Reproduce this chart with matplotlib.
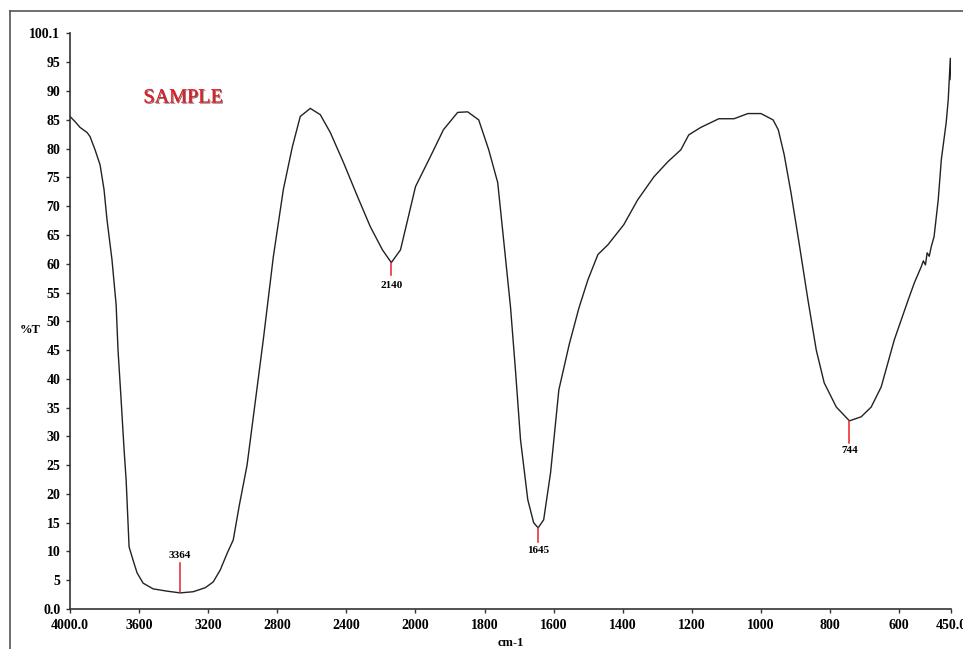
import numpy as np
import matplotlib

matplotlib.use("Agg")
import matplotlib.pyplot as plt
import matplotlib.patheffects as pe
from matplotlib.lines import Line2D

# spectrum (wavenumber cm-1, %T)
wavenumber = [4000, 3971, 3942, 3901, 3884, 3855, 3826, 3803, 3786, 3757,
              3733, 3722, 3704, 3687, 3675, 3658, 3635, 3612, 3577, 3519,
              3438, 3362, 3287, 3217, 3171, 3130, 3090, 3055, 3020, 2975,
              2881, 2823, 2765, 2713, 2667, 2609, 2551, 2493, 2417, 2336,
              2261, 2191, 2140, 2087, 2041, 2000, 1957, 1919, 1878, 1849,
              1817, 1788, 1762, 1745, 1725, 1710, 1696, 1675, 1658, 1645,
              1629, 1609, 1585, 1555, 1527, 1501, 1472, 1443, 1397, 1357,
              1310, 1270, 1232, 1209, 1174, 1122, 1078, 1038, 1000, 965,
              950, 933, 913, 890, 864, 840, 817, 782, 744, 710,
              681, 652, 614, 574, 556, 536, 530, 524, 519, 513,
              507, 499, 487, 478, 464, 458, 452, 450]
transmittance = [85.6, 84.7, 83.7, 82.8, 82.1, 79.8, 77.2, 72.9, 67.7, 60.7,
                 52.9, 45.0, 36.3, 27.7, 22.4, 10.8, 8.5, 6.3, 4.5, 3.5,
                 3.1, 2.8, 3.0, 3.7, 4.7, 6.8, 9.7, 12.0, 18.0, 25.0,
                 46.8, 61.2, 72.9, 80.3, 85.6, 87.0, 85.9, 82.8, 77.6, 71.7,
                 66.4, 62.4, 60.2, 62.4, 68.2, 73.4, 78.6, 83.3, 86.3, 86.4,
                 85.0, 79.8, 74.1, 64.2, 52.5, 41.0, 29.4, 19.0, 15.0, 14.1,
                 15.5, 23.7, 38.1, 46.0, 52.3, 57.2, 61.6, 63.3, 66.8, 71.1,
                 75.1, 77.7, 79.8, 82.4, 83.7, 85.2, 85.2, 86.1, 86.1, 85.0,
                 83.3, 79.0, 72.3, 63.7, 53.7, 45.0, 39.3, 35.1, 32.7, 33.4,
                 35.1, 38.6, 46.8, 53.7, 56.7, 59.5, 60.5, 59.8, 61.9, 61.3,
                 63.0, 64.7, 71.1, 78.1, 84.5, 88.5, 95.7, 92.0]

# marked peaks: position, top/bottom of red marker, label height
peak_pos = [3364, 2140, 1645, 744]
peak_y0 = [2.9, 60.2, 14.1, 32.7]
peak_y1 = [8.0, 58.1, 11.7, 28.9]
peak_label_y = [9.3, 56.3, 10.2, 27.5]

xticks = [4000, 3600, 3200, 2800, 2400, 2000, 1800, 1600, 1400, 1200, 1000, 800, 600, 450]
xticklabels = ["4000.0", "3600", "3200", "2800", "2400", "2000", "1800", "1600",
               "1400", "1200", "1000", "800", "600", "450.0"]
yticks = list(range(0, 100, 5)) + [100.1]
yticklabels = ["0.0"] + [str(v) for v in range(5, 100, 5)] + ["100.1"]


# spectrometer style axis: 2x expansion below 2000 cm-1 (increasing in x)
def fwd(x):
    x = np.asarray(x, dtype=float)
    return -np.where(x >= 2000, (4000 - x) / 2, 1000 + (2000 - x))


def inv(u):
    u = -np.asarray(u, dtype=float)
    return np.where(u <= 1000, 4000 - 2 * u, 2000 - (u - 1000))


plt.rcParams["font.family"] = ["Liberation Serif", "DejaVu Serif"]

fig = plt.figure(figsize=(9.63, 6.49), dpi=100)
ax = fig.add_axes([70 / 963, 40 / 649, 881 / 963, 576 / 649])
ax.set_xscale("function", functions=(fwd, inv))

ax.plot(wavenumber, transmittance, color="#222222", linewidth=1.0)

for x, y0, y1, yl in zip(peak_pos, peak_y0, peak_y1, peak_label_y):
    ax.plot([x, x], [y0, y1], color="#e8202a", linewidth=1.1)
    ax.text(x, yl, str(x), ha="center", va="center", fontsize=8, fontweight="bold")

ax.set_xlim(4000, 450)
ax.set_ylim(0, 100.1)
ax.set_xticks(xticks)
ax.set_xticklabels(xticklabels)
ax.set_yticks(yticks)
ax.set_yticklabels(yticklabels)
ax.minorticks_off()
ax.tick_params(direction="out", length=3, width=1, color="#333333", pad=4,
               labelsize=10)
for lab in ax.get_xticklabels() + ax.get_yticklabels():
    lab.set_fontweight("bold")

for side in ["top", "right"]:
    ax.spines[side].set_visible(False)
for side in ["left", "bottom"]:
    ax.spines[side].set_color("#333333")
    ax.spines[side].set_linewidth(1.2)

ax.text(-40 / 881, (609 - 330) / 576, "%T", transform=ax.transAxes,
        ha="center", va="center", fontsize=9, fontweight="bold")
ax.text(0.5, -34 / 576, "cm-1", transform=ax.transAxes,
        ha="center", va="center", fontsize=9, fontweight="bold")

ax.text((183 - 70) / 881, (609 - 98) / 576, "SAMPLE", transform=ax.transAxes,
        ha="center", va="center", fontsize=14.5, color="#e01e26",
        path_effects=[pe.withSimplePatchShadow(offset=(0.8, -0.8),
                                               shadow_rgbFace="#333333", alpha=0.7),
                      pe.Normal()])

# outer frame of the scanned figure (left and top edges visible)
fig.add_artist(Line2D([10 / 963, 10 / 963], [0, 1 - 11 / 649],
                      transform=fig.transFigure, color="#555555", linewidth=1.2))
fig.add_artist(Line2D([10 / 963, 1], [1 - 11 / 649, 1 - 11 / 649],
                      transform=fig.transFigure, color="#555555", linewidth=1.2))

fig.savefig("out.png", dpi=100)
